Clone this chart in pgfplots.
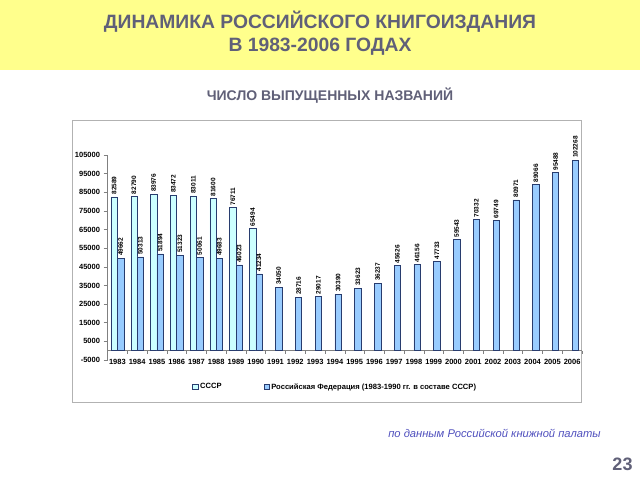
\documentclass[border=0pt]{standalone}
\usepackage{fontspec}
\setmainfont{Liberation Sans}
\usepackage{pgfplots}
\usepackage{pgfplotstable}
\pgfplotsset{compat=1.18}
\definecolor{titlecol}{RGB}{96,96,120}
\definecolor{band}{RGB}{255,255,140}
\definecolor{ussrfill}{RGB}{204,255,255}
\definecolor{rffill}{RGB}{153,204,255}
\definecolor{barline}{RGB}{40,60,110}
\definecolor{srccol}{RGB}{80,80,190}

\pgfplotstableread{
x v
0 82589
1 82790
2 83976
3 83472
4 83011
5 81600
6 76711
7 65494
}\ussr

\pgfplotstableread{
x v
0 49662
1 50313
2 51894
3 51323
4 50061
5 49683
6 46023
7 41234
8 34050
9 28716
10 29017
11 30390
12 33623
13 36237
14 45626
15 46156
16 47733
17 59543
18 70332
19 69749
20 80971
21 89066
22 95488
23 102268
}\rf

\begin{document}
\begin{tikzpicture}
\useasboundingbox (0pt,0pt) rectangle (640pt,-480pt);
\fill[white] (0pt,0pt) rectangle (640pt,-480pt);
\fill[band] (0pt,0pt) rectangle (640pt,-70pt);
\node[text=titlecol,font=\bfseries\fontsize{19.3}{22}\selectfont] at (320pt,-22pt) {ДИНАМИКА РОССИЙСКОГО КНИГОИЗДАНИЯ};
\node[text=titlecol,font=\bfseries\fontsize{19.3}{22}\selectfont] at (320pt,-47pt) {В 1983-2006 ГОДАХ};
\node[text=titlecol,font=\bfseries\fontsize{14}{16}\selectfont] at (330pt,-96pt) {ЧИСЛО ВЫПУЩЕННЫХ НАЗВАНИЙ};
\node[text=srccol,font=\itshape\fontsize{11.2}{13}\selectfont] at (494.5pt,-433pt) {по данным Российской книжной палаты};
\node[text=titlecol,font=\bfseries\fontsize{18}{20}\selectfont] at (622.5pt,-464pt) {23};
\draw[gray!60, line width=0.6pt] (72pt,-120pt) rectangle (581pt,-402pt);
\begin{axis}[
  at={(107.5pt,-360pt)}, anchor=south west,
  scale only axis, width=474.5pt, height=205pt,
  xmin=-0.5, xmax=23.5, ymin=-5000, ymax=105000,
  enlargelimits=false,
  axis y line=left, axis x line=middle,
  axis line style={-, draw=gray, line width=0.6pt},
  xtick={0,...,23},
  xticklabels={1983,1984,1985,1986,1987,1988,1989,1990,1991,1992,1993,1994,1995,1996,1997,1998,1999,2000,2001,2002,2003,2004,2005,2006},
  minor xtick={-0.5,0.5,...,23.5},
  major x tick style={draw=none},
  minor x tick style={draw=gray, line width=0.5pt},
  minor tick length=3pt,
  ytick={-5000,5000,...,105000},
  y tick style={draw=gray, line width=0.5pt},
  major tick length=4pt,
  tick align=outside,
  scaled y ticks=false,
  /pgf/number format/.cd, fixed, precision=0, 1000 sep={}, assume math mode=true, /pgfplots/.cd,
  ticklabel style={font=\bfseries\fontsize{7.5}{8}\selectfont},
  xticklabel style={yshift=-1pt},
  ybar, bar width=6.4pt,
  nodes near coords,
  nodes near coords style={rotate=90, anchor=west, font=\bfseries\fontsize{6.5}{7}\selectfont, inner sep=2pt},
  legend columns=2,
  legend style={draw=none, fill=none, at={(0.48,-0.132)}, anchor=center, font=\bfseries\fontsize{7.6}{8}\selectfont, /tikz/every even column/.append style={column sep=40pt}},
  legend image code/.code={\draw[#1, line width=0.5pt] (0pt,-2.6pt) rectangle (5.2pt,2.6pt);},
]
\addplot[fill=ussrfill, draw=barline, line width=0.5pt, bar shift=-3.2pt] table[x=x,y=v] {\ussr};
\addplot[fill=rffill, draw=barline, line width=0.5pt, bar shift=3.2pt] table[x=x,y=v] {\rf};
\legend{СССР, Российская Федерация (1983-1990 гг. в составе СССР)}
\end{axis}
\end{tikzpicture}
\end{document}
